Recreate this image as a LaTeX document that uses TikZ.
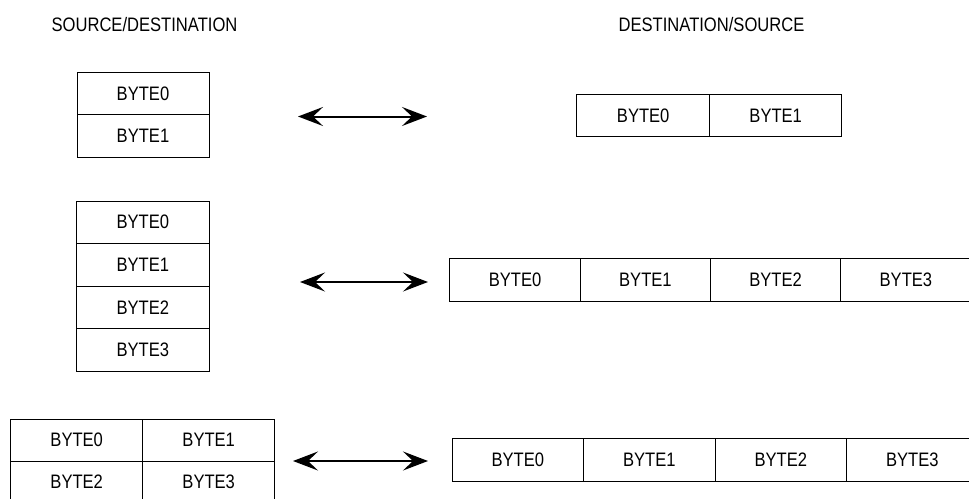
\documentclass[tikz,border=0pt]{standalone}
\usepackage{fontspec}
\setmainfont{Liberation Sans}[FakeStretch=0.85]
\usetikzlibrary{arrows.meta}
\tikzset{
  cell/.style={draw=black, line width=1pt, inner sep=0pt, outer sep=0pt,
    font=\fontsize{19.5}{21}\selectfont, anchor=center},
  hdr/.style={font=\fontsize{19.5}{21}\selectfont, inner sep=0pt},
  biarrow/.style={line width=2pt, {Stealth[length=25pt,width=19pt,inset=10pt]}-{Stealth[length=25pt,width=19pt,inset=10pt]}}
}
\begin{document}
\begin{tikzpicture}[x=1pt,y=-1pt]
\useasboundingbox (0,0) rectangle (969,498);
\clip (0,0) rectangle (969,498);
% headers
\node[hdr] (h1) at (144.5,25) {SOURCE/DESTINATION};
\node[hdr] (h2) at (711.5,25) {DESTINATION/SOURCE};
% Box A
\begin{scope}[every node/.style={cell, minimum width=132pt, minimum height=42.25pt}]
\node (a0) at (143,93.6) {BYTE0};
\node (a1) at (143,135.9) {BYTE1};
\end{scope}
% Box B
\begin{scope}[every node/.style={cell, minimum width=132.5pt, minimum height=42pt}]
\node (b0) at (643.2,115.5) {BYTE0};
\node (b1) at (775.7,115.5) {BYTE1};
\end{scope}
% Box C
\begin{scope}[every node/.style={cell, minimum width=132.5pt, minimum height=42.5pt}]
\node (c0) at (142.8,222.25) {BYTE0};
\node (c1) at (142.8,264.75) {BYTE1};
\node (c2) at (142.8,307.25) {BYTE2};
\node (c3) at (142.8,349.75) {BYTE3};
\end{scope}
% Box D
\begin{scope}[every node/.style={cell, minimum width=130.25pt, minimum height=43pt}]
\node (d0) at (515.1,279.5) {BYTE0};
\node (d1) at (645.4,279.5) {BYTE1};
\node (d2) at (775.6,279.5) {BYTE2};
\node (d3) at (905.9,279.5) {BYTE3};
\end{scope}
% Box E
\begin{scope}[every node/.style={cell, minimum width=132pt, minimum height=42pt}]
\node (e0) at (76.7,440) {BYTE0};
\node (e1) at (208.7,440) {BYTE1};
\node (e2) at (76.7,482) {BYTE2};
\node (e3) at (208.7,482) {BYTE3};
\end{scope}
% Box F
\begin{scope}[every node/.style={cell, minimum width=131.5pt, minimum height=42.5pt}]
\node (f0) at (517.8,459.75) {BYTE0};
\node (f1) at (649.3,459.75) {BYTE1};
\node (f2) at (780.8,459.75) {BYTE2};
\node (f3) at (912.3,459.75) {BYTE3};
\end{scope}
% arrows
\coordinate (p1l) at (298,116.5);
\coordinate (p1r) at (427,116.5);
\coordinate (p2l) at (300,282);
\coordinate (p2r) at (428,282);
\coordinate (p3l) at (293,461);
\coordinate (p3r) at (428,461);
\draw[biarrow] (p1l) -- (p1r);
\draw[biarrow] (p2l) -- (p2r);
\draw[biarrow] (p3l) -- (p3r);
\end{tikzpicture}
\end{document}
